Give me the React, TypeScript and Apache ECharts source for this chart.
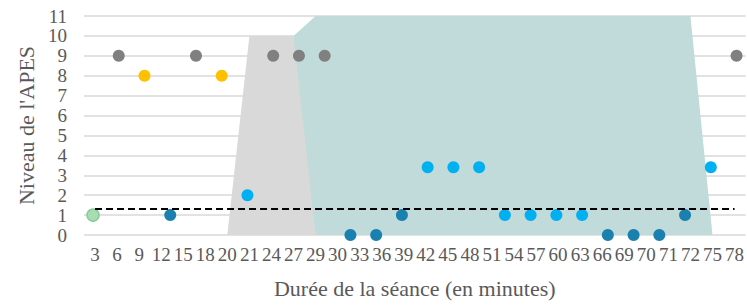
import React, { useEffect, useRef } from "react";
import * as echarts from "echarts";

const categories = ["3", "6", "9", "12", "15", "18", "20", "21", "24", "27", "29", "30", "33", "36", "39", "42", "45", "48", "51", "54", "57", "60", "63", "66", "69", "70", "71", "72", "75", "78"];
// area series on category axis ('-' = no value)
const grayArea = ["-", "-", "-", "-", "-", "-", 0, 10, 10, 10, 0, "-", "-", "-", "-", "-", "-", "-", "-", "-", "-", "-", "-", "-", "-", "-", "-", "-", "-", "-"];
const tealArea = ["-", "-", "-", "-", "-", "-", "-", "-", "-", 10, 11, 11, 11, 11, 11, 11, 11, 11, 11, 11, 11, 11, 11, 11, 11, 11, 11, 11, 0, "-"];
const thresholdValue = 1.3;

// dots (time in minutes, APES level, colour group)
const dotTimes = [3, 6, 9, 12, 15, 18, 21, 24, 27, 30, 33, 36, 39, 42, 45, 48, 51, 54, 57, 60, 63, 66, 69, 72, 75, 78];
const dotLevels = [1, 9, 8, 1, 9, 8, 2, 9, 9, 9, 0, 0, 1, 3.4, 3.4, 3.4, 1, 1, 1, 1, 0, 0, 0, 1, 3.4, 9];
const dotGroups = ["green", "gray", "yellow", "dark", "gray", "yellow", "cyan", "gray", "gray", "gray", "dark", "dark", "dark", "cyan", "cyan", "cyan", "cyan", "cyan", "cyan", "cyan", "dark", "dark", "dark", "dark", "cyan", "gray"];

const groupColors: Record<string, string> = {
  green: "#a9dcb3",
  gray: "#808080",
  yellow: "#ffc000",
  dark: "#1a80b0",
  cyan: "#00b0f0",
};

const FONT = "'Liberation Serif', 'Times New Roman', serif";
const TEXT = "#595959";

export default function App() {
  const ref = useRef<HTMLDivElement>(null);
  useEffect(() => {
    if (!ref.current) return;
    const chart = echarts.init(ref.current, undefined, { renderer: "svg" });
    const dotData = dotTimes.map((t, i) => ({
      value: [t, dotLevels[i]],
      itemStyle: {
        color: groupColors[dotGroups[i]],
        borderColor: dotGroups[i] === "green" ? "#86cc98" : groupColors[dotGroups[i]],
        borderWidth: dotGroups[i] === "green" ? 1.5 : 0,
        opacity: 1,
      },
    }));
    chart.setOption({
      animation: false,
      textStyle: { fontFamily: FONT },
      grid: { left: 84, right: -1, top: 16, bottom: 71, containLabel: false },
      xAxis: [
        {
          type: "category",
          data: categories,
          boundaryGap: true,
          axisLine: { show: false },
          axisTick: { show: false },
          axisLabel: { interval: 0, color: TEXT, fontSize: 19, fontFamily: FONT, margin: 10 },
          name: "Durée de la séance (en minutes)",
          nameLocation: "middle",
          nameGap: 42,
          nameTextStyle: { color: TEXT, fontSize: 22, fontFamily: FONT },
        },
        {
          type: "value",
          min: 1.95,
          max: 79.05,
          show: false,
        },
      ],
      yAxis: {
        type: "value",
        min: 0,
        max: 11,
        interval: 1,
        axisLine: { show: false },
        axisTick: { show: false },
        axisLabel: { color: TEXT, fontSize: 19, fontFamily: FONT, margin: 17 },
        splitLine: { lineStyle: { color: "#d9d9d9", width: 1.5 } },
        name: "Niveau de l'APES",
        nameLocation: "middle",
        nameRotate: 90,
        nameGap: 45,
        nameTextStyle: { color: TEXT, fontSize: 22, fontFamily: FONT },
      },
      series: [
        {
          type: "line",
          xAxisIndex: 0,
          data: tealArea,
          symbol: "none",
          lineStyle: { width: 0 },
          areaStyle: { color: "#c0dbda", opacity: 1 },
          z: 1,
        },
        {
          type: "line",
          xAxisIndex: 0,
          data: grayArea,
          symbol: "none",
          lineStyle: { width: 0 },
          areaStyle: { color: "#d9d9d9", opacity: 1 },
          z: 2,
        },
        {
          type: "line",
          xAxisIndex: 0,
          data: categories.map(() => thresholdValue),
          symbol: "none",
          lineStyle: { color: "#000000", width: 2, type: [7, 4] },
          z: 4,
        },
        {
          type: "scatter",
          xAxisIndex: 1,
          data: dotData,
          symbolSize: 12,
          itemStyle: { opacity: 1 },
          z: 3,
        },
      ],
    });
    return () => chart.dispose();
  }, []);
  return <div ref={ref} style={{ width: 747, height: 306, position: "absolute", left: 0, top: 0 }} />;
}
